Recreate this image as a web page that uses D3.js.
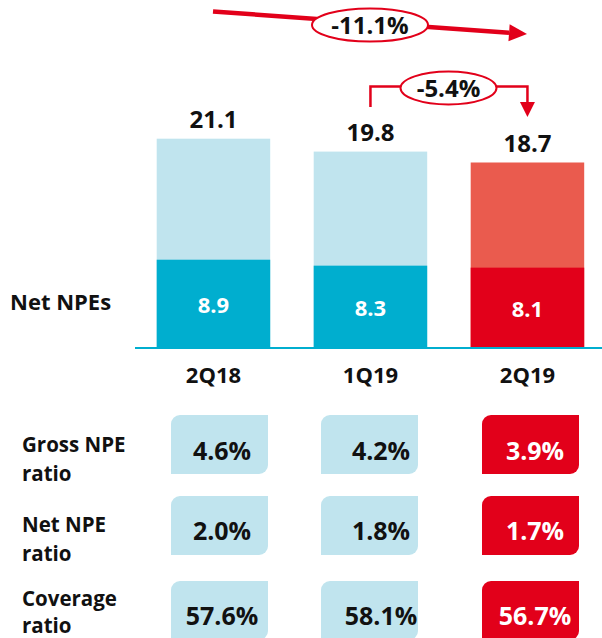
<!DOCTYPE html>
<html><head><meta charset="utf-8">
<script src="https://cdn.jsdelivr.net/npm/d3@7"></script>
<style>
html,body{margin:0;padding:0;background:#fff;}
svg{display:block;font-family:"Open Sans",sans-serif;font-weight:700;}
</style></head>
<body>
<svg id="c" width="602" height="638"></svg>
<script>
// ---- data ----
const categories = ["2Q18", "1Q19", "2Q19"];
const grossNPE = [21.1, 19.8, 18.7];
const netNPE = [8.9, 8.3, 8.1];
const changeTotal = "-11.1%";
const changeQoQ = "-5.4%";
const ratioRows = ["Gross NPE|ratio", "Net NPE|ratio", "Coverage|ratio"];
const grossRatio = ["4.6%", "4.2%", "3.9%"];
const netRatio = ["2.0%", "1.8%", "1.7%"];
const coverageRatio = ["57.6%", "58.1%", "56.7%"];

// ---- styles ----
const RED = "#E2001A", LRED = "#EA5B4E", LBLUE = "#C0E4EE", TEAL = "#00AECF";

const svg = d3.select("#c");
const baseY = 348;
const x = d3.scaleBand().domain(categories).range([156.7, 584.2]).paddingInner(0.277).paddingOuter(0);
const y = d3.scaleLinear().domain([0, 25]).range([baseY, baseY - 248]);
const last = categories[categories.length - 1];

// bars: gross (full) and net (bottom)
svg.selectAll("rect.g").data(categories).join("rect")
  .attr("x", d => x(d)).attr("width", x.bandwidth())
  .attr("y", (d, i) => y(grossNPE[i])).attr("height", (d, i) => baseY - y(grossNPE[i]))
  .attr("fill", d => d === last ? LRED : LBLUE);
svg.selectAll("rect.n").data(categories).join("rect")
  .attr("x", d => x(d)).attr("width", x.bandwidth())
  .attr("y", (d, i) => y(netNPE[i])).attr("height", (d, i) => baseY - y(netNPE[i]))
  .attr("fill", d => d === last ? RED : TEAL);

// axis line
svg.append("line").attr("x1", 135).attr("x2", 602).attr("y1", baseY).attr("y2", baseY)
  .attr("stroke", TEAL).attr("stroke-width", 2);

// value labels
svg.selectAll("text.tot").data(categories).join("text")
  .attr("x", d => x(d) + x.bandwidth() / 2).attr("y", (d, i) => y(grossNPE[i]) - 10.5)
  .attr("text-anchor", "middle").attr("font-size", 24).attr("fill", "#111")
  .text((d, i) => grossNPE[i].toFixed(1));
svg.selectAll("text.net").data(categories).join("text")
  .attr("x", d => x(d) + x.bandwidth() / 2).attr("y", (d, i) => (baseY + y(netNPE[i])) / 2 + 9.5)
  .attr("text-anchor", "middle").attr("font-size", 22).attr("fill", "#fff")
  .text((d, i) => netNPE[i].toFixed(1));

// category labels
svg.selectAll("text.cat").data(categories).join("text")
  .attr("x", d => x(d) + x.bandwidth() / 2).attr("y", 383)
  .attr("text-anchor", "middle").attr("font-size", 22).attr("fill", "#111")
  .text(d => d);

svg.append("text").attr("x", 10).attr("y", 310).attr("font-size", 22).attr("fill", "#111").text("Net NPEs");

// ---- change annotations ----
// long arrow
(function () {
  const x1 = 213, y1 = 11.5, x2 = 527, y2 = 34;
  const ang = Math.atan2(y2 - y1, x2 - x1);
  const hl = 18, hw = 8.5;
  const bx = x2 - hl * Math.cos(ang), by = y2 - hl * Math.sin(ang);
  svg.append("line").attr("x1", x1).attr("y1", y1).attr("x2", bx).attr("y2", by)
    .attr("stroke", RED).attr("stroke-width", 4.5);
  svg.append("polygon").attr("fill", RED).attr("points", [
    [x2, y2],
    [bx - hw * Math.sin(ang), by + hw * Math.cos(ang)],
    [bx + hw * Math.sin(ang), by - hw * Math.cos(ang)]
  ].map(p => p.join(",")).join(" "));
  svg.append("ellipse").attr("cx", 370).attr("cy", 25).attr("rx", 58).attr("ry", 16.5)
    .attr("fill", "#fff").attr("stroke", RED).attr("stroke-width", 2);
  svg.append("text").attr("x", 370).attr("y", 33.5).attr("text-anchor", "middle")
    .attr("font-size", 24).attr("fill", "#111").text(changeTotal);
})();

// bracket arrow
(function () {
  const xa = x(categories[1]) + x.bandwidth() / 2, xb = x(last) + x.bandwidth() / 2;
  const top = 86.5, tip = 117, head = 15, hw = 7.5;
  svg.append("path").attr("fill", "none").attr("stroke", RED).attr("stroke-width", 2.5)
    .attr("d", `M${xa},107 V${top} H${xb} V${tip - head}`);
  svg.append("polygon").attr("fill", RED)
    .attr("points", `${xb - hw},${tip - head} ${xb + hw},${tip - head} ${xb},${tip}`);
  svg.append("ellipse").attr("cx", 448.5).attr("cy", 88).attr("rx", 48).attr("ry", 16.5)
    .attr("fill", "#fff").attr("stroke", RED).attr("stroke-width", 2);
  svg.append("text").attr("x", 448.5).attr("y", 96.5).attr("text-anchor", "middle")
    .attr("font-size", 24).attr("fill", "#111").text(changeQoQ);
})();

// ---- ratio table ----
const rows = [grossRatio, netRatio, coverageRatio];
const rowTop = [415, 496, 581];
const rowBase = [460, 539.5, 625];
const labelBase = [451.5, 531.5, 606];
const boxX = [171, 321, 482];
const textX = [222, 381, 535];
const bw = 97, bh = 59, r = 9;
function leaf(x0, y0) {
  return `M${x0},${y0 + r} A${r},${r} 0 0 1 ${x0 + r},${y0} H${x0 + bw} V${y0 + bh - r} A${r},${r} 0 0 1 ${x0 + bw - r},${y0 + bh} H${x0} Z`;
}
rows.forEach((vals, ri) => {
  const lines = ratioRows[ri].split("|");
  const t = svg.append("text").attr("x", 22).attr("y", labelBase[ri]).attr("font-size", 20.5).attr("fill", "#111");
  lines.forEach((l, li) => t.append("tspan").attr("x", 22).attr("dy", li ? (ri === 2 ? 27 : 29) : 0).text(l));
  vals.forEach((v, ci) => {
    const isLast = ci === vals.length - 1;
    svg.append("path").attr("d", leaf(boxX[ci], rowTop[ri])).attr("fill", isLast ? RED : LBLUE);
    svg.append("text").attr("x", textX[ci]).attr("y", rowBase[ri]).attr("text-anchor", "middle")
      .attr("font-size", 25).attr("fill", isLast ? "#fff" : "#111").text(v);
  });
});
</script>
</body></html>
